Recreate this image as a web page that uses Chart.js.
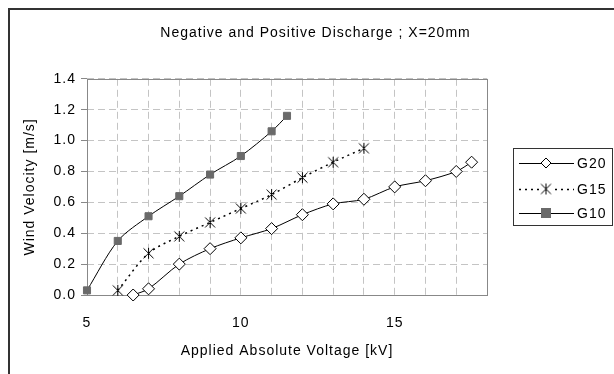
<!DOCTYPE html>
<html>
<head>
<meta charset="utf-8">
<script src="https://cdn.jsdelivr.net/npm/chart.js@4"></script>
<style>
  html, body { margin: 0; padding: 0; background: #fff; }
  #wrap { width: 614px; height: 374px; position: relative; }
</style>
</head>
<body>
<div id="wrap"><canvas id="windChart" width="614" height="374"></canvas></div>
<script>
const g20Volt = [6.5, 7, 8, 9, 10, 11, 12, 13, 14, 15, 16, 17, 17.5];
const g20Vel = [0.0, 0.04, 0.20, 0.30, 0.37, 0.43, 0.52, 0.59, 0.62, 0.70, 0.74, 0.80, 0.86];
const g15Volt = [6, 7, 8, 9, 10, 11, 12, 13, 14];
const g15Vel = [0.03, 0.27, 0.38, 0.47, 0.56, 0.65, 0.76, 0.86, 0.95];
const g10Volt = [5, 6, 7, 8, 9, 10, 11, 11.5];
const g10Vel = [0.03, 0.35, 0.51, 0.64, 0.78, 0.90, 1.06, 1.16];
const seriesNames = ["G20", "G15", "G10"];
const xLabels = [5, 10, 15];

const FONT = "'Liberation Sans', Arial, sans-serif";
const GRID = "#c4c4c4";

// asterisk marker like Excel's star (X plus vertical bar)
function starMarker() {
  const c = document.createElement("canvas");
  c.width = 13; c.height = 13;
  const g = c.getContext("2d");
  g.strokeStyle = "#000";
  g.lineWidth = 1;
  g.beginPath();
  g.moveTo(1.5, 1.5); g.lineTo(11.5, 11.5);
  g.moveTo(11.5, 1.5); g.lineTo(1.5, 11.5);
  g.moveTo(6.5, 1); g.lineTo(6.5, 12);
  g.stroke();
  return c;
}
const star = starMarker();

const pairs = (xs, ys) => xs.map((x, i) => ({ x: x, y: ys[i] }));

// outer frame + plot border + boxed legend
const framePlugin = {
  id: "frame",
  beforeLayout(chart) {
    chart.ctx.letterSpacing = "1px";
  },
  beforeDraw(chart) {
    const c = chart.ctx;
    c.letterSpacing = "1px";
    c.save();
    c.fillStyle = "#fff";
    c.fillRect(0, 0, chart.width, chart.height);
    c.strokeStyle = "#333";
    c.lineWidth = 2;
    c.beginPath();
    c.moveTo(9, chart.height);
    c.lineTo(9, 9);
    c.lineTo(chart.width, 9);
    c.stroke();
    c.restore();
  },
  beforeDatasetsDraw(chart) {
    const a = chart.chartArea;
    const c = chart.ctx;
    c.save();
    c.strokeStyle = "#888";
    c.lineWidth = 1;
    c.strokeRect(Math.round(a.left) + 0.5, Math.round(a.top) + 0.5, Math.round(a.right - a.left), Math.round(a.bottom - a.top));
    c.restore();
  },
  afterDraw(chart) {
    const c = chart.ctx;
    c.save();
    c.strokeStyle = "#333";
    c.lineWidth = 1;
    c.strokeRect(513.5, 148.5, 99, 77);
    const rows = [163, 189, 213];
    chart.data.datasets.forEach((ds, i) => {
      const y = rows[i];
      c.strokeStyle = "#000";
      c.lineWidth = ds.borderWidth;
      c.setLineDash(ds.borderDash || []);
      c.beginPath();
      c.moveTo(519, y + 0.5);
      c.lineTo(574, y + 0.5);
      c.stroke();
      c.setLineDash([]);
      c.lineWidth = 1;
      const mx = 546;
      if (ds.pointStyle === "rectRot") {
        c.fillStyle = "#fff";
        c.beginPath();
        c.moveTo(mx, y - 5); c.lineTo(mx + 5, y); c.lineTo(mx, y + 5); c.lineTo(mx - 5, y); c.closePath();
        c.fill(); c.stroke();
      } else if (ds.pointStyle === "rect") {
        c.fillStyle = ds.pointBackgroundColor;
        c.fillRect(mx - 5, y - 5, 10, 10);
      } else {
        c.fillStyle = "#fff";
        c.fillRect(mx - 6, y - 6, 12, 12);
        c.drawImage(star, mx - 6.5, y - 6.5);
      }
      c.fillStyle = "#000";
      c.font = "14px " + FONT;
      c.textBaseline = "middle";
      c.fillText(ds.label, 577, y + 1);
    });
    c.restore();
  }
};

new Chart(document.getElementById("windChart").getContext("2d"), {
  type: "line",
  data: {
    datasets: [
      {
        label: seriesNames[0],
        data: pairs(g20Volt, g20Vel),
        borderColor: "#000",
        borderWidth: 1,
        tension: 0.3,
        clip: false,
        pointStyle: "rectRot",
        pointRadius: 6,
        pointBackgroundColor: "#fff",
        pointBorderColor: "#000",
        pointBorderWidth: 1
      },
      {
        label: seriesNames[1],
        data: pairs(g15Volt, g15Vel),
        borderColor: "#000",
        borderWidth: 1.5,
        borderDash: [2, 4],
        tension: 0.3,
        clip: false,
        pointStyle: star,
        pointRadius: 6
      },
      {
        label: seriesNames[2],
        data: pairs(g10Volt, g10Vel),
        borderColor: "#000",
        borderWidth: 1,
        tension: 0.3,
        clip: false,
        pointStyle: "rect",
        pointRadius: 5,
        pointBackgroundColor: "#6a6a6a",
        pointBorderColor: "#6a6a6a",
        pointBorderWidth: 1
      }
    ]
  },
  options: {
    responsive: false,
    animation: false,
    layout: { padding: { left: 22, right: 5, top: 0, bottom: 14 } },
    plugins: {
      legend: { display: false },
      tooltip: { enabled: false },
      title: {
        display: true,
        text: "Negative and Positive Discharge ; X=20mm",
        color: "#000",
        font: { family: FONT, size: 14, weight: "normal" },
        padding: { top: 25, bottom: 37 }
      }
    },
    scales: {
      x: {
        type: "linear",
        min: 5,
        max: 18,
        border: { display: false, dash: [7, 4] },
        grid: { color: GRID, drawTicks: false },
        ticks: {
          stepSize: 1,
          autoSkip: false,
          maxRotation: 0,
          padding: 20,
          color: "#000",
          font: { family: FONT, size: 14 },
          callback: v => (xLabels.includes(v) ? String(v) : "")
        },
        title: {
          display: true,
          text: "Applied Absolute Voltage [kV]",
          color: "#000",
          font: { family: FONT, size: 14 },
          padding: { top: 4, bottom: 0 }
        },
        afterFit: s => { s.height = 65; }
      },
      y: {
        min: 0,
        max: 1.4,
        border: { display: false, dash: [7, 4] },
        grid: { color: GRID, tickLength: 6, tickColor: "#888", tickBorderDash: [0, 0] },
        ticks: {
          stepSize: 0.2,
          padding: 5,
          color: "#000",
          font: { family: FONT, size: 14 },
          callback: v => v.toFixed(1)
        },
        title: {
          display: true,
          text: "Wind Velocity [m/s]",
          color: "#000",
          font: { family: FONT, size: 14 },
          padding: { top: 0, bottom: 6 }
        },
        afterFit: s => { s.width = 65; }
      },
      // empty right-hand box that leaves room for the legend
      side: {
        type: "linear",
        position: "right",
        display: true,
        border: { display: false },
        grid: { display: false },
        ticks: { display: false },
        afterFit: s => { s.width = 122; }
      }
    }
  },
  plugins: [framePlugin]
});
</script>
</body>
</html>
